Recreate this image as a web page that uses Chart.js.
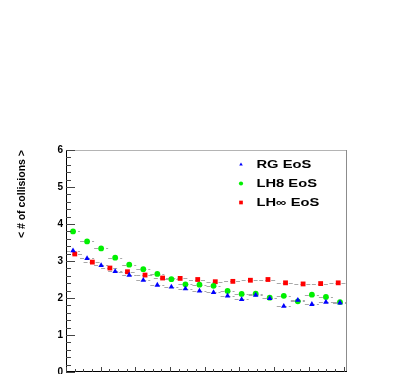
<!DOCTYPE html>
<html>
<head>
<meta charset="utf-8">
<script src="https://cdn.jsdelivr.net/npm/chart.js@4/dist/chart.umd.min.js"></script>
<style>
  html, body { margin: 0; padding: 0; background: #fff; }
</style>
</head>
<body>
<canvas id="collisions" width="415" height="374"></canvas>
<script>
// histogram range (x labels are not visible in the picture)
const xMin = 0;
const xMax = 8.1;
const yMin = 0;
const yMax = 6;

const seriesLabels = ['RG EoS', 'LH8 EoS', 'LH\u221E EoS'];
const rgVals = [3.28, 3.07, 2.88, 2.72, 2.62, 2.48, 2.35, 2.30, 2.25, 2.19,
                2.15, 2.06, 1.96, 2.08, 1.99, 1.78, 1.94, 1.83, 1.89, 1.87];
const lh8Vals = [3.80, 3.53, 3.34, 3.09, 2.90, 2.78, 2.65, 2.51, 2.37, 2.36,
                 2.33, 2.19, 2.11, 2.12, 2.01, 2.06, 1.91, 2.09, 2.03, 1.89];
const lhInfVals = [3.19, 2.97, 2.81, 2.71, 2.62, 2.54, 2.53, 2.50,
                   2.44, 2.45, 2.48, 2.50, 2.41, 2.38, 2.39, 2.41];

// points sit in the middle of equal bins
function toPoints(vals) {
  const w = (xMax - xMin) / vals.length;
  return vals.map((v, i) => ({ x: xMin + (i + 0.5) * w, y: v }));
}

const boldFont = 'Liberation Sans';

// grey horizontal bars (bin widths), ROOT style frame and inner ticks
const rootFrame = {
  id: 'rootFrame',
  beforeDatasetsDraw(chart) {
    const ctx = chart.ctx;
    const xs = chart.scales.x, ys = chart.scales.y;
    ctx.save();
    ctx.strokeStyle = '#a8a8a8';
    ctx.lineWidth = 1;
    ctx.setLineDash([4, 2]);
    chart.data.datasets.forEach((ds) => {
      const hw = (xMax - xMin) / ds.data.length / 2;
      ds.data.forEach((p) => {
        const y = Math.round(ys.getPixelForValue(p.y)) + 0.5;
        ctx.beginPath();
        ctx.moveTo(xs.getPixelForValue(p.x - hw), y);
        ctx.lineTo(xs.getPixelForValue(p.x + hw), y);
        ctx.stroke();
      });
    });
    ctx.restore();
  },
  afterDraw(chart) {
    const ctx = chart.ctx;
    const a = chart.chartArea;
    const xs = chart.scales.x, ys = chart.scales.y;
    ctx.save();
    ctx.lineWidth = 1;
    // top and right in grey
    ctx.strokeStyle = '#b4b4b4';
    ctx.beginPath();
    ctx.moveTo(a.left, a.top + 0.5);
    ctx.lineTo(a.right, a.top + 0.5);
    ctx.stroke();
    ctx.strokeStyle = '#8c8c8c';
    ctx.beginPath();
    ctx.moveTo(a.right - 0.5, a.top);
    ctx.lineTo(a.right - 0.5, a.bottom);
    ctx.stroke();
    // axes in black
    ctx.strokeStyle = '#000';
    ctx.beginPath();
    ctx.moveTo(a.left + 0.5, a.top);
    ctx.lineTo(a.left + 0.5, a.bottom);
    ctx.moveTo(a.left, a.bottom - 0.5);
    ctx.lineTo(a.right, a.bottom - 0.5);
    ctx.stroke();
    // y ticks, 5 subdivisions
    ctx.strokeStyle = '#444';
    ctx.beginPath();
    for (let k = 0; k <= (yMax - yMin) * 5; k++) {
      const y = Math.round(ys.getPixelForValue(yMin + k * 0.2)) + 0.5;
      const len = k % 5 === 0 ? 9 : 5;
      ctx.moveTo(a.left, y);
      ctx.lineTo(a.left + len, y);
    }
    // x ticks, 4 subdivisions
    for (let k = 0; xMin + k * 0.25 <= xMax; k++) {
      const x = Math.round(xs.getPixelForValue(xMin + k * 0.25)) + 0.5;
      const len = k % 4 === 0 ? 5 : 3;
      ctx.moveTo(x, a.bottom);
      ctx.lineTo(x, a.bottom - len);
    }
    ctx.stroke();

    // legend box in the upper right
    chart.data.datasets.forEach((ds, i) => {
      const y = 164.5 + i * 19;
      ctx.fillStyle = ds.backgroundColor;
      Chart.helpers.drawPoint(ctx, {
        pointStyle: ds.pointStyle, rotation: 0,
        radius: ds.pointStyle === 'rect' ? 2.6 : 2.1, borderWidth: 0
      }, 241, y);
      ctx.save();
      ctx.translate(256.5, y);
      ctx.scale(1.4, 1);
      ctx.fillStyle = '#000';
      ctx.font = 'bold 10.5px ' + boldFont;
      ctx.textBaseline = 'middle';
      ctx.fillText(ds.label, 0, 0.5);
      ctx.restore();
    });
    ctx.restore();
  }
};

const collisionsChart = new Chart(document.getElementById('collisions'), {
  type: 'scatter',
  data: {
    datasets: [
      {
        label: seriesLabels[0],
        data: toPoints(rgVals),
        pointStyle: 'triangle',
        pointRadius: 3.2,
        pointBorderWidth: 0,
        backgroundColor: '#0000ff',
        borderColor: '#0000ff'
      },
      {
        label: seriesLabels[1],
        data: toPoints(lh8Vals),
        pointStyle: 'circle',
        pointRadius: 2.9,
        pointBorderWidth: 0,
        backgroundColor: '#00f000',
        borderColor: '#00f000'
      },
      {
        label: seriesLabels[2],
        data: toPoints(lhInfVals),
        pointStyle: 'rect',
        pointRadius: 3.4,
        pointBorderWidth: 0,
        backgroundColor: '#ff0000',
        borderColor: '#ff0000'
      }
    ]
  },
  options: {
    responsive: false,
    animation: false,
    events: [],
    layout: {
      autoPadding: false,
      padding: { top: 150, right: 68, bottom: 0, left: 0 }
    },
    plugins: {
      legend: { display: false },
      tooltip: { enabled: false }
    },
    scales: {
      x: {
        type: 'linear',
        min: xMin,
        max: xMax,
        ticks: { display: false },
        grid: { display: false, drawTicks: false },
        border: { display: false },
        afterFit(scale) {
          scale.height = 2;
          scale.paddingLeft = 0;
          scale.paddingRight = 0;
        }
      },
      y: {
        min: yMin,
        max: yMax,
        ticks: {
          stepSize: 1,
          padding: 3,
          color: '#000',
          font: { family: boldFont, weight: 'bold', size: 10 }
        },
        grid: { display: false, drawTicks: false },
        border: { display: false },
        title: {
          display: true,
          text: '< # of collisions >',
          align: 'end',
          color: '#000',
          padding: { top: 15.5, bottom: 0 },
          font: { family: boldFont, weight: 'bold', size: 10.5 }
        },
        afterFit(scale) {
          scale.width = 66;
          scale.paddingTop = 0;
          scale.paddingBottom = 0;
        }
      }
    }
  },
  plugins: [rootFrame]
});
</script>
</body>
</html>
